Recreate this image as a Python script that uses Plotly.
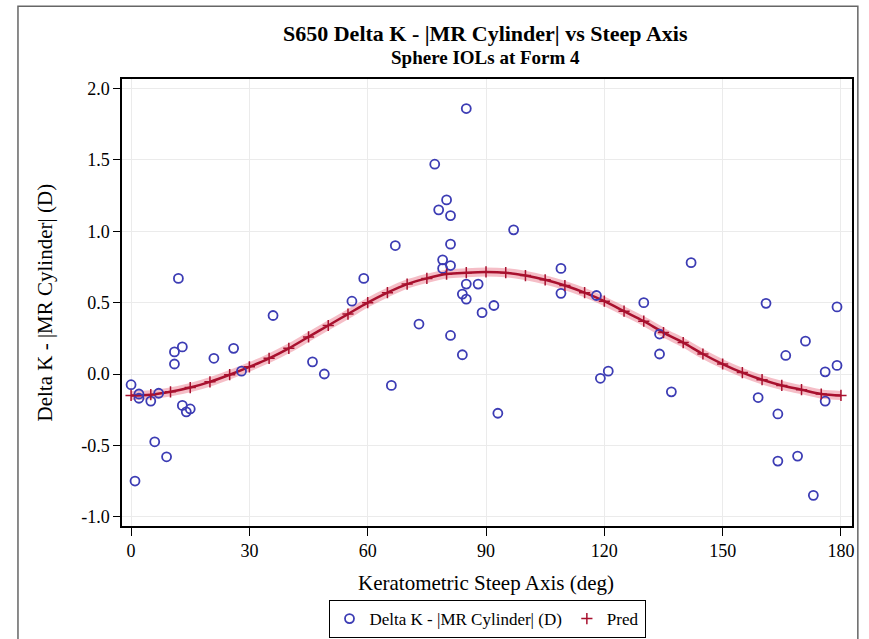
import plotly.graph_objects as go

# Observed data: keratometric steep axis (deg) and Delta K - |MR Cylinder| (D)
axis_deg = [85, 77, 80, 78, 81, 97, 67, 81, 79, 79, 81, 142, 109, 12, 59, 85, 88, 84, 85, 56,
            109, 118, 130, 161, 179, 92, 89, 36, 73, 81, 84, 13, 11, 11, 26, 21, 46, 49, 28, 0,
            66, 2, 2, 7, 5, 13, 14, 15, 6, 9, 1, 93, 134, 134, 119, 121, 137, 171, 166, 179,
            176, 159, 176, 164, 164, 169, 173]
delta_k = [1.86, 1.47, 1.22, 1.15, 1.11, 1.01, 0.90, 0.91, 0.80, 0.74, 0.76, 0.78, 0.74, 0.67, 0.67,
           0.63, 0.63, 0.56, 0.525, 0.51, 0.565, 0.55, 0.50, 0.495, 0.47, 0.48, 0.43, 0.41, 0.35,
           0.27, 0.135, 0.19, 0.155, 0.07, 0.18, 0.11, 0.085, 0.0, 0.02, -0.075, -0.08, -0.14,
           -0.17, -0.135, -0.19, -0.22, -0.265, -0.245, -0.475, -0.58, -0.75, -0.275, 0.28, 0.14,
           -0.03, 0.02, -0.125, 0.23, 0.13, 0.06, 0.015, -0.165, -0.19, -0.28, -0.61, -0.575, -0.85]

# Predicted curve
pred_deg = [0, 5, 10, 15, 20, 25, 30, 35, 40, 45, 50, 55, 60, 65, 70, 75, 80, 85, 90,
            95, 100, 105, 110, 115, 120, 125, 130, 135, 140, 145, 150, 155, 160, 165, 170, 175, 180]
pred_val = [-0.15, -0.145, -0.125, -0.095, -0.055, -0.005, 0.05, 0.11, 0.18, 0.26, 0.34, 0.42,
            0.50, 0.57, 0.63, 0.67, 0.70, 0.71, 0.715, 0.71, 0.69, 0.66, 0.62, 0.57, 0.51, 0.44,
            0.37, 0.29, 0.22, 0.14, 0.07, 0.01, -0.04, -0.08, -0.11, -0.14, -0.15]

x_ticks = [0, 30, 60, 90, 120, 150, 180]
y_ticks = [-1.0, -0.5, 0.0, 0.5, 1.0, 1.5, 2.0]
y_tick_labels = ["-1.0", "-0.5", "0.0", "0.5", "1.0", "1.5", "2.0"]

title_main = "S650 Delta K - |MR Cylinder| vs Steep Axis"
title_sub = "Sphere IOLs at Form 4"
x_title = "Keratometric Steep Axis (deg)"
y_title = "Delta K - |MR Cylinder| (D)"

FONT = "Liberation Serif, Times New Roman, serif"

fig = go.Figure()
fig.add_trace(go.Scatter(x=pred_deg, y=pred_val, mode="lines", line=dict(color="rgba(225,70,95,0.35)", width=9, shape="spline"),
                         showlegend=False, hoverinfo="skip"))
fig.add_trace(go.Scatter(x=pred_deg, y=pred_val, mode="lines", line=dict(color="#A8102E", width=2.5, shape="spline"),
                         showlegend=False, hoverinfo="skip"))
fig.add_trace(go.Scatter(x=axis_deg, y=delta_k, mode="markers", name="Delta K - |MR Cylinder| (D)",
                         marker=dict(symbol="circle-open", size=9, color="#3C3CB4", line=dict(width=1.8, color="#3C3CB4")),
                         legendrank=1))
fig.add_trace(go.Scatter(x=pred_deg, y=pred_val, mode="markers", name="Pred",
                         marker=dict(symbol="cross-thin-open", size=8, color="#A8102E", line=dict(width=1.5, color="#A8102E")),
                         legendrank=2))

fig.update_layout(
    width=869, height=639,
    margin=dict(l=122, r=17, t=79, b=113, autoexpand=False),
    paper_bgcolor="white", plot_bgcolor="white",
    font=dict(family=FONT, size=18, color="black"),
    showlegend=True,
    legend=dict(orientation="h", x=0.5, xanchor="center", y=-0.2081, yanchor="middle",
                bordercolor="black", borderwidth=1, font=dict(family=FONT, size=17), itemwidth=30,
                tracegroupgap=0),
    xaxis=dict(range=[-2.3, 182.8], tickvals=x_ticks, ticks="outside", ticklen=8, tickcolor="black",
               showline=True, linecolor="black", linewidth=1.5, mirror=True, zeroline=False,
               showgrid=True, gridcolor="#EBEBEB", gridwidth=1,
               tickfont=dict(family=FONT, size=18)),
    yaxis=dict(range=[-1.065, 2.067], tickvals=y_ticks, ticktext=y_tick_labels, ticks="outside", ticklen=7, tickcolor="black",
               showline=True, linecolor="black", linewidth=1.5, mirror=True, zeroline=False,
               showgrid=True, gridcolor="#EBEBEB", gridwidth=1,
               tickfont=dict(family=FONT, size=18)),
    annotations=[
        dict(text="<b>" + title_main + "</b>", xref="paper", yref="paper", x=0.4986, y=1.1007,
             xanchor="center", yanchor="middle", showarrow=False, font=dict(family=FONT, size=22)),
        dict(text="<b>" + title_sub + "</b>", xref="paper", yref="paper", x=0.4986, y=1.047,
             xanchor="center", yanchor="middle", showarrow=False, font=dict(family=FONT, size=19)),
        dict(text=x_title, xref="paper", yref="paper", x=0.4986, y=-0.1275,
             xanchor="center", yanchor="middle", showarrow=False, font=dict(family=FONT, size=21)),
        dict(text=y_title, xref="paper", yref="paper", x=-0.1055, y=0.5, textangle=-90,
             xanchor="center", yanchor="middle", showarrow=False, font=dict(family=FONT, size=21)),
    ],
    shapes=[dict(type="rect", xref="paper", yref="paper", x0=-0.1425, x1=1.008, y0=1.163, y1=-0.3,
                 line=dict(color="#666666", width=1.5), layer="below")],
)

fig.write_html("out.html")
